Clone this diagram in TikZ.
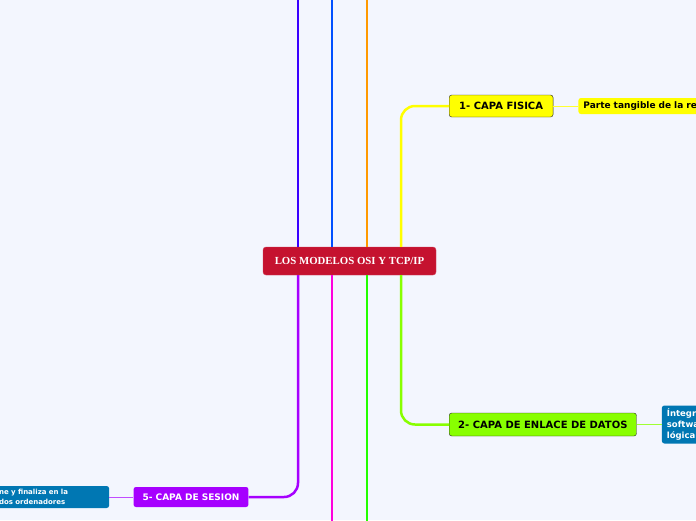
\documentclass[tikz,border=0pt]{standalone}
\usepackage{fontspec}
\setmainfont{DejaVu Sans}
\newfontfamily\romana{Liberation Serif}
\usetikzlibrary{positioning}

\definecolor{fondo}{HTML}{F3F6FE}
\definecolor{rojo}{HTML}{C5122F}
\definecolor{violeta}{HTML}{3A00FF}
\definecolor{azul}{HTML}{0050FF}
\definecolor{naranja}{HTML}{FF9900}
\definecolor{amarillo}{HTML}{FFFF00}
\definecolor{morado}{HTML}{A600FF}
\definecolor{magenta}{HTML}{FF00DD}
\definecolor{verde}{HTML}{22FF00}
\definecolor{lima}{HTML}{88FF00}
\definecolor{azulnota}{HTML}{0077B3}

\tikzset{
	raiz/.style={fill=rojo, draw=rojo!80!white, rounded corners=3pt, text=white, font=\romana\bfseries\fontsize{10.8}{12}\selectfont, minimum width=173pt, minimum height=28pt},
	capa/.style={draw=black!85, rounded corners=2.5pt, font=\bfseries\fontsize{10}{12}\selectfont, inner xsep=9pt, minimum height=22pt},
	nota/.style={rounded corners=2.5pt, font=\bfseries\fontsize{9}{10}\selectfont, inner xsep=5pt, inner ysep=2pt, align=left},
	rama/.style={line width=2.5pt},
	enlace/.style={line width=0.9pt, rounded corners=14pt}
}

\begin{document}
\begin{tikzpicture}[x=1pt,y=-1pt]
			\useasboundingbox (0,0) rectangle (696,520);
			\fill[fondo] (0,0) rectangle (696,520);
			\clip (0,0) rectangle (696,520);
			\coordinate (cima) at (349.5,-5);
			\coordinate (pie) at (349.5,525);
			% nodos
			\node[raiz] (raiz) at (349.5,261) {LOS MODELOS OSI Y TCP/IP};
			\node[capa, fill=amarillo, anchor=west, inner xsep=10pt] (fisica) at (449,106) {1- CAPA FISICA};
			\node[capa, fill=lima, anchor=west, minimum height=23pt] (datos) at (449,424.5) {2- CAPA DE ENLACE DE DATOS};
			\node[capa, draw=none, fill=morado, text=white, font=\bfseries\fontsize{9}{11}\selectfont, minimum height=20pt] (sesion) at (191,497) {5- CAPA DE SESION};
			\node[nota, fill=amarillo, minimum height=16pt, text width=150pt, right=25pt of fisica] (tangible) {Parte tangible de la red};
			\node[nota, fill=azulnota, text=white, font=\bfseries\fontsize{8.5}{11}\selectfont, minimum height=38pt, text width=80pt, right=25pt of datos] (integra) {Íntegr\\softwa\\lógica};
			\node[nota, fill=azulnota, text=white, font=\bfseries\fontsize{7}{10}\selectfont, minimum height=22pt, text width=105pt, left=24pt of sesion] (finaliza) {ne y finaliza en la\\dos ordenadores};
			% ramas
			\foreach \dx/\col in {-51.5/violeta, -17.5/azul, 17.5/naranja}
				\draw[rama,\col] ([xshift=\dx pt]raiz.north) -- ([xshift=\dx pt]raiz.north |- cima);
			\foreach \dx/\col in {-17.5/magenta, 17.5/verde}
				\draw[rama,\col] ([xshift=\dx pt]raiz.south) -- ([xshift=\dx pt]raiz.south |- pie);
			\draw[rama, amarillo, rounded corners=14pt] ([xshift=51.5pt]raiz.north) |- (fisica.west);
			\draw[rama, lima, rounded corners=14pt] ([xshift=51.5pt]raiz.south) |- (datos.west);
			\draw[rama, morado, rounded corners=14pt] ([xshift=-51.5pt]raiz.south) |- (sesion.east);
			\draw[enlace, amarillo!80!white] (fisica) -- (tangible);
			\draw[enlace, lima!80!white] (datos) -- (integra);
			\draw[enlace, morado!70!white] (sesion) -- (finaliza);
\end{tikzpicture}
\end{document}
